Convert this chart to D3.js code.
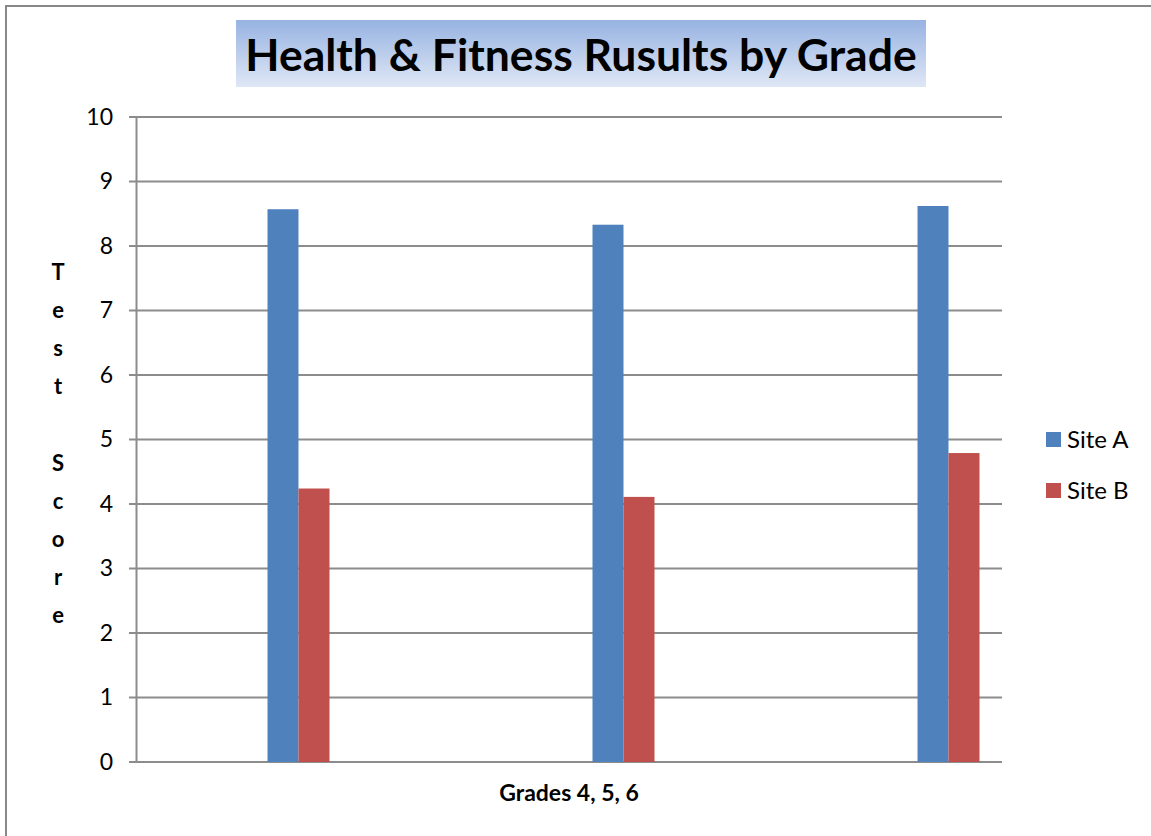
<!DOCTYPE html>
<html>
<head>
<meta charset="utf-8">
<script src="https://cdn.jsdelivr.net/npm/d3@7"></script>
<style>
  body { margin: 0; background: #fff; }
  text { font-family: Lato, "Open Sans", sans-serif; }
</style>
</head>
<body>
<div id="chart"></div>
<script>
const categories = ["Grade 4", "Grade 5", "Grade 6"];
const seriesNames = ["Site A", "Site B"];
const siteA = [8.57, 8.33, 8.62];
const siteB = [4.24, 4.11, 4.79];
const yTicks = [0, 1, 2, 3, 4, 5, 6, 7, 8, 9, 10];
const yLabelLetters = ["T", "e", "s", "t", "", "S", "c", "o", "r", "e"];

const W = 1151, H = 836;
const plotLeft = 136, plotRight = 1002, plotTop = 117, plotBottom = 762;

const svg = d3.select("#chart").append("svg")
    .attr("width", W)
    .attr("height", H);

// outer frame (only top and left show in the picture)
svg.append("path")
    .attr("d", "M6," + H + " V6 H" + W)
    .attr("fill", "none")
    .attr("stroke", "#888")
    .attr("stroke-width", 2);

// title box with gradient
let defs = svg.append("defs");
let grad = defs.append("linearGradient")
    .attr("id", "titleGrad")
    .attr("x1", 0).attr("y1", 0).attr("x2", 0).attr("y2", 1);
grad.append("stop").attr("offset", "0%").attr("stop-color", "#97b3e2");
grad.append("stop").attr("offset", "100%").attr("stop-color", "#dfe7f5");

svg.append("rect")
    .attr("x", 236).attr("y", 20)
    .attr("width", 690).attr("height", 67)
    .attr("fill", "url(#titleGrad)");

svg.append("text")
    .attr("x", 581).attr("y", 71)
    .attr("text-anchor", "middle")
    .style("font-size", "44.5px")
    .style("font-weight", "bold")
    .attr("fill", "#000")
    .text("Health & Fitness Rusults by Grade");

let y = d3.scaleLinear().domain([0, 10]).range([plotBottom, plotTop]);

// categories are spaced wider than the drawn axis, as in the original
let x0 = d3.scaleBand().domain(categories).range([plotLeft, plotLeft + 975]);
let x1 = d3.scaleBand().domain(seriesNames).range([0, 62]);

let color = d3.scaleOrdinal().domain(seriesNames).range(["#4f81bd", "#c0504d"]);

// gridlines
svg.append("g")
   .selectAll("line")
   .data(yTicks)
   .enter().append("line")
   .attr("x1", plotLeft - 7)
   .attr("x2", plotRight)
   .attr("y1", d => y(d))
   .attr("y2", d => y(d))
   .attr("stroke", "#8c8c8c")
   .attr("stroke-width", 2);

// y axis
let yAxis = d3.axisLeft(y).tickValues(yTicks).tickSize(0).tickPadding(23);
let yg = svg.append("g")
    .attr("transform", "translate(" + plotLeft + ",0)")
    .call(yAxis);
yg.select(".domain").attr("stroke", "#8c8c8c").attr("stroke-width", 2);
yg.selectAll("text")
  .style("font-size", "23px")
  .attr("fill", "#000")
  .attr("font-family", "Lato, sans-serif");

// bars
let data = categories.map((c, i) => ({
  key: c,
  values: [{name: "Site A", value: siteA[i]}, {name: "Site B", value: siteB[i]}]
}));

let slice = svg.selectAll(".slice")
    .data(data)
    .enter().append("g")
    .attr("class", "slice")
    .attr("transform", d => "translate(" + (x0(d.key) + x0.bandwidth() / 2 - 31) + ",0)");

slice.selectAll("rect")
    .data(d => d.values)
    .enter().append("rect")
    .attr("x", d => x1(d.name))
    .attr("width", x1.bandwidth())
    .attr("y", d => y(d.value))
    .attr("height", d => y(0) - y(d.value))
    .attr("fill", d => color(d.name));

// y label, one letter per line
svg.append("g")
   .selectAll("text")
   .data(yLabelLetters)
   .enter().append("text")
   .attr("x", 58)
   .attr("y", (d, i) => 280 + i * 38.1)
   .attr("text-anchor", "middle")
   .style("font-size", "22px")
   .style("font-weight", "bold")
   .text(d => d);

// x label
svg.append("text")
   .attr("x", 569).attr("y", 801)
   .attr("text-anchor", "middle")
   .style("font-size", "23px")
   .style("font-weight", "bold")
   .text("Grades 4, 5, 6");

// legend
let legend = svg.selectAll(".legend")
    .data(seriesNames)
    .enter().append("g")
    .attr("class", "legend")
    .attr("transform", (d, i) => "translate(1046," + (432 + i * 51) + ")");

legend.append("rect")
    .attr("width", 15).attr("height", 15)
    .attr("fill", d => color(d));

legend.append("text")
    .attr("x", 21).attr("y", 16)
    .style("font-size", "24px")
    .text(d => d);
</script>
</body>
</html>
